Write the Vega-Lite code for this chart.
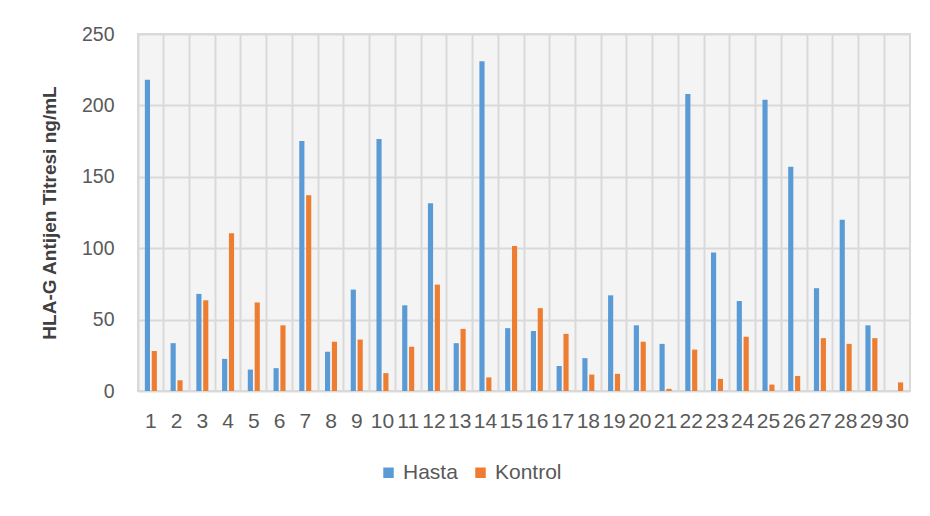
{
  "$schema": "https://vega.github.io/schema/vega-lite/v6.json",
  "autosize": {"type": "none"},
  "width": 772,
  "height": 357,
  "padding": {"left": 138, "top": 34, "right": 20, "bottom": 125},
  "background": "#ffffff",
  "config": {
    "view": {"fill": "#f4f4f4", "stroke": "#d9d9d9", "strokeWidth": 2},
    "font": "Liberation Sans"
  },
  "data": {
    "values": [
      {"id": 1, "grup": "Hasta", "deger": 218}, {"id": 1, "grup": "Kontrol", "deger": 28},
      {"id": 2, "grup": "Hasta", "deger": 33.5}, {"id": 2, "grup": "Kontrol", "deger": 7.5},
      {"id": 3, "grup": "Hasta", "deger": 68}, {"id": 3, "grup": "Kontrol", "deger": 63.5},
      {"id": 4, "grup": "Hasta", "deger": 22.5}, {"id": 4, "grup": "Kontrol", "deger": 110.5},
      {"id": 5, "grup": "Hasta", "deger": 15}, {"id": 5, "grup": "Kontrol", "deger": 62},
      {"id": 6, "grup": "Hasta", "deger": 16}, {"id": 6, "grup": "Kontrol", "deger": 46},
      {"id": 7, "grup": "Hasta", "deger": 175}, {"id": 7, "grup": "Kontrol", "deger": 137},
      {"id": 8, "grup": "Hasta", "deger": 27.5}, {"id": 8, "grup": "Kontrol", "deger": 34.5},
      {"id": 9, "grup": "Hasta", "deger": 71}, {"id": 9, "grup": "Kontrol", "deger": 36},
      {"id": 10, "grup": "Hasta", "deger": 176.5}, {"id": 10, "grup": "Kontrol", "deger": 12.5},
      {"id": 11, "grup": "Hasta", "deger": 60}, {"id": 11, "grup": "Kontrol", "deger": 31},
      {"id": 12, "grup": "Hasta", "deger": 131.5}, {"id": 12, "grup": "Kontrol", "deger": 74.5},
      {"id": 13, "grup": "Hasta", "deger": 33.5}, {"id": 13, "grup": "Kontrol", "deger": 43.5},
      {"id": 14, "grup": "Hasta", "deger": 231}, {"id": 14, "grup": "Kontrol", "deger": 9.5},
      {"id": 15, "grup": "Hasta", "deger": 44}, {"id": 15, "grup": "Kontrol", "deger": 101.5},
      {"id": 16, "grup": "Hasta", "deger": 42}, {"id": 16, "grup": "Kontrol", "deger": 58},
      {"id": 17, "grup": "Hasta", "deger": 17.5}, {"id": 17, "grup": "Kontrol", "deger": 40},
      {"id": 18, "grup": "Hasta", "deger": 23}, {"id": 18, "grup": "Kontrol", "deger": 11.5},
      {"id": 19, "grup": "Hasta", "deger": 67}, {"id": 19, "grup": "Kontrol", "deger": 12},
      {"id": 20, "grup": "Hasta", "deger": 46}, {"id": 20, "grup": "Kontrol", "deger": 34.5},
      {"id": 21, "grup": "Hasta", "deger": 33}, {"id": 21, "grup": "Kontrol", "deger": 1.5},
      {"id": 22, "grup": "Hasta", "deger": 208}, {"id": 22, "grup": "Kontrol", "deger": 29},
      {"id": 23, "grup": "Hasta", "deger": 97}, {"id": 23, "grup": "Kontrol", "deger": 8.5},
      {"id": 24, "grup": "Hasta", "deger": 63}, {"id": 24, "grup": "Kontrol", "deger": 38},
      {"id": 25, "grup": "Hasta", "deger": 204}, {"id": 25, "grup": "Kontrol", "deger": 4.5},
      {"id": 26, "grup": "Hasta", "deger": 157}, {"id": 26, "grup": "Kontrol", "deger": 10.5},
      {"id": 27, "grup": "Hasta", "deger": 72}, {"id": 27, "grup": "Kontrol", "deger": 37},
      {"id": 28, "grup": "Hasta", "deger": 120}, {"id": 28, "grup": "Kontrol", "deger": 33},
      {"id": 29, "grup": "Hasta", "deger": 46}, {"id": 29, "grup": "Kontrol", "deger": 37},
      {"id": 30, "grup": "Hasta", "deger": 0}, {"id": 30, "grup": "Kontrol", "deger": 6}
    ]
  },
  "mark": {"type": "bar"},
  "encoding": {
    "x": {
      "field": "id",
      "type": "ordinal",
      "scale": {"paddingInner": 0, "paddingOuter": 0},
      "axis": {
        "title": null,
        "labelAngle": 0,
        "labelOverlap": false,
        "labelFontSize": 21,
        "labelColor": "#595959",
        "labelPadding": 19,
        "ticks": false,
        "domain": false,
        "grid": true,
        "bandPosition": 0,
        "gridColor": "#d9d9d9",
        "gridWidth": 2
      }
    },
    "xOffset": {
      "field": "grup",
      "type": "nominal",
      "scale": {"paddingInner": 0.25, "paddingOuter": 1.0}
    },
    "y": {
      "field": "deger",
      "type": "quantitative",
      "scale": {"domain": [0, 250], "nice": false},
      "axis": {
        "title": "HLA-G Antijen Titresi ng/mL",
        "titleFontSize": 19,
        "titleFontWeight": "bold",
        "titleColor": "#404040",
        "titlePadding": 22,
        "values": [0, 50, 100, 150, 200, 250],
        "labelFontSize": 19.5,
        "labelColor": "#595959",
        "labelPadding": 24,
        "ticks": false,
        "domain": false,
        "grid": true,
        "gridColor": "#d9d9d9",
        "gridWidth": 2
      }
    },
    "color": {
      "field": "grup",
      "type": "nominal",
      "scale": {"domain": ["Hasta", "Kontrol"], "range": ["#5b9bd5", "#ed7d31"]},
      "legend": {
        "title": null,
        "orient": "none",
        "direction": "horizontal",
        "legendX": 240,
        "legendY": 428,
        "symbolType": "square",
        "symbolSize": 110,
        "symbolStrokeWidth": 0,
        "labelFontSize": 21,
        "labelColor": "#595959",
        "labelOffset": 4,
        "columnPadding": 12
      }
    }
  }
}
